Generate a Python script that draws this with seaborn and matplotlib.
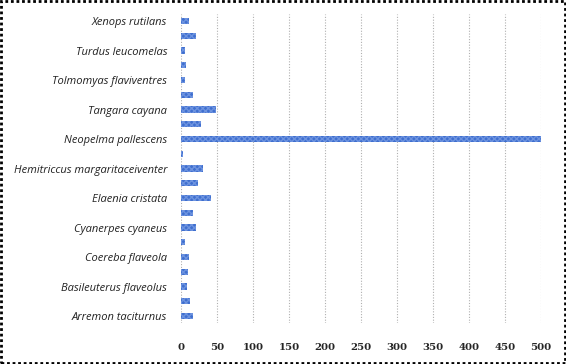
import matplotlib
matplotlib.use("Agg")
import matplotlib.pyplot as plt
import matplotlib.patches as mpatches
import seaborn as sns
import pandas as pd

# categories from top to bottom (unlabelled rows have empty display labels)
labels = ["Xenops rutilans", "", "Turdus leucomelas", "", "Tolmomyas flaviventres", "",
          "Tangara cayana", "", "Neopelma pallescens", "", "Hemitriccus margaritaceiventer", "",
          "Elaenia cristata", "", "Cyanerpes cyaneus", "", "Coereba flaveola", "",
          "Basileuterus flaveolus", "", "Arremon taciturnus"]
values = [11, 21, 5, 7, 6, 16, 48, 27, 500, 2, 31, 24, 42, 16, 21, 5, 11, 10, 7.5, 12, 16]
xticks = [0, 50, 100, 150, 200, 250, 300, 350, 400, 450, 500]

ids = [f"c{i}" for i in range(len(values))]
df = pd.DataFrame({"id": ids, "value": values})

sns.set_style("white")
fig = plt.figure(figsize=(5.66, 3.64), dpi=100)
ax = fig.add_axes([0.320, 0.1115, 0.636, 0.851])

sns.barplot(data=df, x="value", y="id", orient="h", order=ids, color="#3f6fcf",
            width=0.42, ax=ax, saturation=1)
for p in ax.patches:
    p.set_hatch("xxxxxx")
    p.set_edgecolor("#6d93df")
    p.set_linewidth(0)

ax.set_xlim(0, 500)
ax.set_ylim(len(values) - 0.5, -0.5)
ax.set_xticks(xticks)
ax.set_xticklabels([str(t) for t in xticks], family="DejaVu Serif", fontweight="bold", fontsize=7.3)
ax.set_yticks(range(len(labels)))
ax.set_yticklabels(labels, family="Open Sans", style="italic", fontsize=8.0, color="#222222")
ax.tick_params(axis="both", length=0)
ax.tick_params(axis="x", pad=14)
ax.tick_params(axis="y", pad=10)
ax.set_xlabel("")
ax.set_ylabel("")
for s in ax.spines.values():
    s.set_visible(False)
ax.set_axisbelow(True)
ax.xaxis.grid(True, linestyle=(0, (1, 1.5)), color="#b0b0b0", linewidth=0.8)
ax.yaxis.grid(False)

fig.patches.append(mpatches.Rectangle((0.002, 0.003), 0.996, 0.994, transform=fig.transFigure,
                                      fill=False, linestyle=(0, (1, 1)), linewidth=2, edgecolor="black"))
fig.savefig("out.png", dpi=100)
